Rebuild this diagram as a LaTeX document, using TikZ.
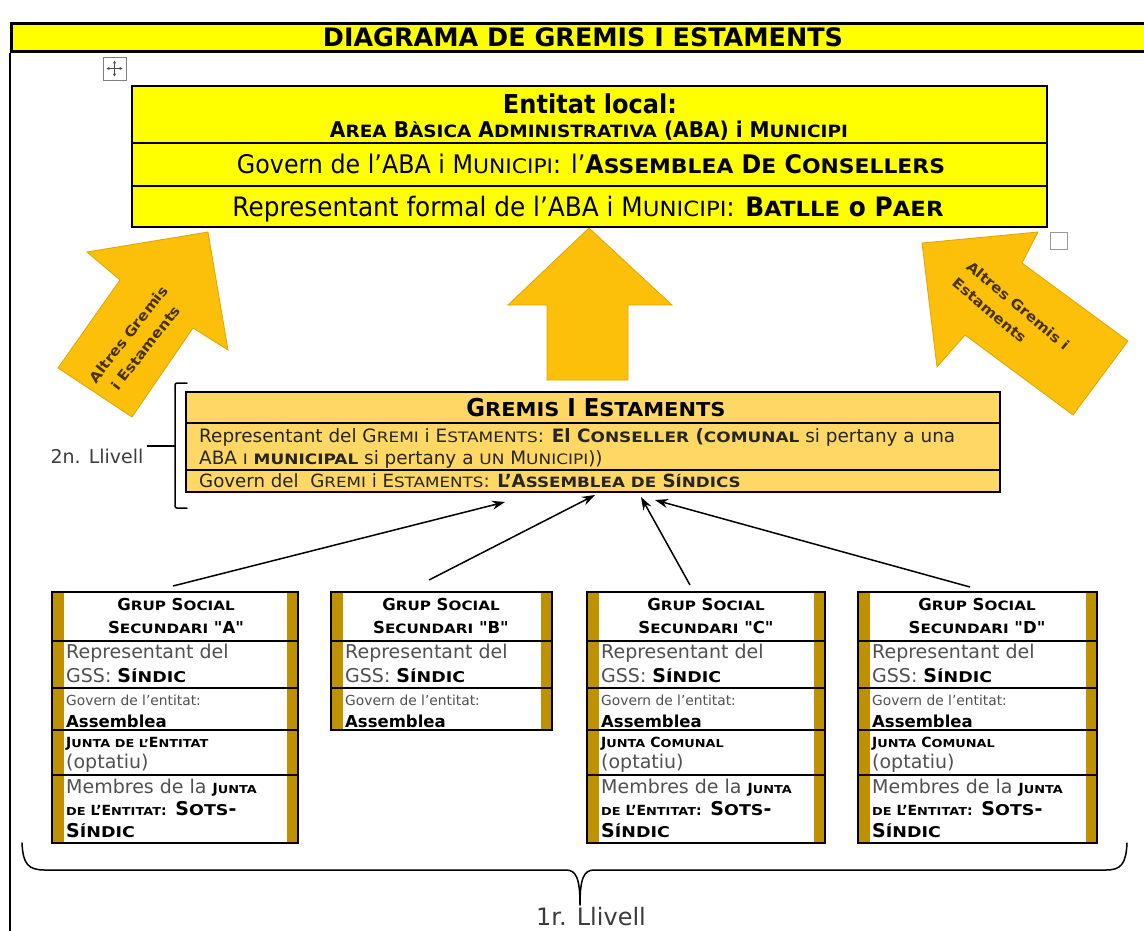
\documentclass[tikz,border=0pt]{standalone}
\usepackage{fontspec}
\setmainfont{DejaVu Sans}
\usetikzlibrary{arrows.meta}
\definecolor{barYellow}{RGB}{255,255,0}
\definecolor{gremFill}{RGB}{255,215,100}
\definecolor{goldBar}{RGB}{191,144,0}
\definecolor{arrowGold}{RGB}{252,192,10}
\definecolor{arrowEdge}{RGB}{222,165,0}
\definecolor{arrowInk}{RGB}{70,50,0}
\definecolor{softInk}{RGB}{80,80,80}
\definecolor{labelInk}{RGB}{60,60,60}
% synthetic small capitals
\newcommand\smc[1]{\scalebox{0.92}[0.78]{#1}}
% one line stretched to a given width
\newcommand\fitw[2]{\scalebox{1}[1.08]{\resizebox{#1}{!}{#2}}}
\newcommand\gsz{\fontsize{19}{23}\selectfont}
\newcommand\gsm{\fontsize{14}{17}\selectfont}
\newcommand\gsg{\fontsize{13.8}{16}\selectfont}
% straight double quote
\newcommand\dq{{\addfontfeature{Ligatures=TeXOff}"}}
\tikzset{
  rowline/.style={line width=1.5pt},
  panel/.style={draw, line width=2pt, anchor=north west, inner sep=0pt, outer sep=0pt},
  gssframe/.style={draw, line width=1.5pt, anchor=north west, inner sep=0pt, outer sep=0pt},
  txt/.style={inner sep=0pt, anchor=base west},
  ctxt/.style={inner sep=0pt, anchor=base},
  bigarrow/.style={fill=arrowGold, draw=arrowEdge, line width=0.8pt, line join=miter},
  conn/.style={line width=1.5pt, -{Stealth[length=13pt,width=9pt]}},
  brace/.style={line width=1.5pt, line join=round, line cap=round},
  arrowlabel/.style={inner sep=0pt, text=arrowInk, font=\fontsize{14}{22}\selectfont\bfseries},
}
% upper rows of a secondary social group box
\newcommand\gssupper[4]{%
  \node[ctxt, font=\fontsize{16.5}{20}\selectfont\bfseries] (#1h1) at (#3,610) {G\smc{RUP} S\smc{OCIAL}};
  \node[ctxt, font=\fontsize{16.5}{20}\selectfont\bfseries] (#1h2) at (#3,633) {S\smc{ECUNDARI} \dq#4\dq};
  \node[txt, font=\gsz, text=softInk] (#1r1) at (#2,658) {Representant del};
  \node[txt, font=\gsz, text=softInk] (#1r2) at (#2,682) {GSS: \textcolor{black}{\bfseries S\smc{ÍNDIC}}};
  \node[txt, font=\gsg, text=softInk] (#1g1) at (#2,705) {Govern de l’entitat:};
  \node[txt, font=\fontsize{16.5}{18}\selectfont\bfseries] (#1g2) at (#2,727) {Assemblea};
}
% lower rows (board and its members)
\newcommand\gsslower[3]{%
  \node[txt, font=\gsm\bfseries] (#1j1) at (#2,747) {#3};
  \node[txt, font=\gsz, text=softInk] (#1j2) at (#2,768) {(optatiu)};
  \node[txt, font=\gsz, text=softInk] (#1m1) at (#2,793) {Membres de la \textcolor{black}{\gsm\bfseries J\smc{UNTA}}};
  \node[txt, font=\gsz\bfseries] (#1m2) at (#2,815) {{\gsm\smc{DE} L’E\smc{NTITAT}:} S\smc{OTS}-};
  \node[txt, font=\gsz\bfseries] (#1m3) at (#2,837) {S\smc{ÍNDIC}};
}
\begin{document}
\begin{tikzpicture}[x=1pt,y=-1pt]
\useasboundingbox (0,0) rectangle (1144,930);
\fill[white] (0,0) rectangle (1144,930);

% title bar and page frame
\node[draw, line width=3pt, fill=barYellow, minimum width=1160pt, minimum height=28pt,
      anchor=north west, inner sep=0pt] (titlebar) at (10,22) {};
\node[ctxt] (title) at (583,46) {\resizebox{520pt}{!}{\bfseries DIAGRAMA DE GREMIS I ESTAMENTS}};
\draw[line width=1.5pt] (titlebar.south west) -- ++(0,900);

% table move handle and resize handle
\node[draw=gray, fill=white, line width=0.8pt, minimum size=23pt, inner sep=0pt] (handle) at (114.5,68.5) {};
\draw[black!70, line width=0.7pt, {Stealth[length=3pt,width=3pt]}-{Stealth[length=3pt,width=3pt]}] (handle.center) ++(0,-8) -- ++(0,16);
\draw[black!70, line width=0.7pt, {Stealth[length=3pt,width=3pt]}-{Stealth[length=3pt,width=3pt]}] (handle.center) ++(-8,0) -- ++(16,0);
\node[draw=gray!80, fill=white, line width=1pt, minimum size=17pt, inner sep=0pt] (resizer) at (1059,241) {};

% block arrows
\draw[bigarrow] (589,228) -- (672,305) -- (628,305) -- (628,380) -- (547,380) -- (547,305) -- (508,305) -- cycle;
\draw[bigarrow] (208,232) -- (228,350) -- (193,328) -- (132,417) -- (58,368) -- (120,280) -- (87,252) -- cycle;
\draw[bigarrow] (922,243) -- (1038,232) -- (1022,263) -- (1128,341) -- (1073,415) -- (965,335) -- (937,367) -- cycle;
\node[arrowlabel, rotate=52, align=center] (altL) at (137,341)
  {\scalebox{1.1}[1]{Altres Gremis}\\\scalebox{1.1}[1]{i Estaments}};
\node[arrowlabel, rotate=-40, align=left] (altR) at (1011,314)
  {\scalebox{1.1}[1]{Altres Gremis i}\\\scalebox{1.1}[1]{Estaments}};

% local entity
\node[panel, fill=barYellow, minimum width=915pt, minimum height=141pt] (ent) at (132,86) {};
\draw[rowline] (ent.north west) ++(0,57) -- ++(915,0);
\draw[rowline] (ent.north west) ++(0,100) -- ++(915,0);
\node[ctxt] (ent1) at (590,113) {\fitw{174pt}{\bfseries Entitat local:}};
\node[ctxt] (ent2) at (589,137) {\fitw{518pt}{\bfseries A\smc{REA} B\smc{ÀSICA} A\smc{DMINISTRATIVA} (ABA) i M\smc{UNICIPI}}};
\node[ctxt] (ent3) at (591,173) {\fitw{708pt}{Govern de l’ABA i M\smc{UNICIPI}: l’\textbf{A\smc{SSEMBLEA} D\smc{E} C\smc{ONSELLERS}}}};
\node[ctxt] (ent4) at (588,216) {\fitw{711pt}{Representant formal de l’ABA i M\smc{UNICIPI}: \textbf{B\smc{ATLLE} o P\smc{AER}}}};

% guilds and estates
\node[panel, fill=gremFill, minimum width=814pt, minimum height=100pt] (grem) at (186,392) {};
\draw[rowline] (grem.north west) ++(0,31) -- ++(814,0);
\draw[rowline] (grem.north west) ++(0,78) -- ++(814,0);
\node[ctxt] (gt1) at (596,416) {\fitw{259pt}{\bfseries G\smc{REMIS} I E\smc{STAMENTS}}};
\node[txt, text=black!85] (gt2) at (199,442) {\resizebox{756pt}{!}{\fontsize{19}{23}\selectfont
  \begin{tabular}[t]{@{}l@{}}
  Representant del G\smc{REMI} i E\smc{STAMENTS}: \textbf{El C\smc{ONSELLER} (\smc{COMUNAL}} si pertany a una\\
  ABA \smc{I} \textbf{\smc{MUNICIPAL}} si pertany a \smc{UN} M\smc{UNICIPI}))
  \end{tabular}}};
\node[txt, text=black!85, font=\fontsize{18.2}{22}\selectfont] (gt3) at (199,487)
  {Govern del\ \ G\smc{REMI} i E\smc{STAMENTS}: \textbf{L’A\smc{SSEMBLEA DE} S\smc{ÍNDICS}}};

% second level bracket
\draw[brace, rounded corners=2pt] (187,383) -- (175,383) -- (175,508) -- (187,508);
\coordinate (tick2) at (175,446);
\draw[line width=1.5pt] (tick2) -- ++(-28,0) coordinate (tick2end);
\node[ctxt, font=\fontsize{19}{23}\selectfont, text=labelInk] (lvl2) at (97,463) {2n. Llivell};

% secondary social groups
\foreach \n/\xa/\xb/\yb in {A/52/298/843,B/331/552/730,C/587/825/843,D/858/1097/843}{
  \fill[goldBar] (\xa,592) rectangle (\xa+12,\yb);
  \fill[goldBar] (\xb-11,592) rectangle (\xb,\yb);
  \node[gssframe, minimum width=\xb pt-\xa pt, minimum height=\yb pt-592pt] (\n) at (\xa,592) {};
  \draw[rowline] (\xa,641) -- (\xb,641);
  \draw[rowline] (\xa,688) -- (\xb,688);
  \ifnum\yb>800
    \draw[rowline] (\xa,730) -- (\xb,730);
    \draw[rowline] (\xa,775) -- (\xb,775);
  \fi
}
\gssupper{A}{66}{176}{A}
\gsslower{A}{66}{J\smc{UNTA DE L’}E\smc{NTITAT}}
\gssupper{B}{345}{441}{B}
\gssupper{C}{601}{706}{C}
\gsslower{C}{601}{J\smc{UNTA} C\smc{OMUNAL}}
\gssupper{D}{872}{977}{D}
\gsslower{D}{872}{J\smc{UNTA} C\smc{OMUNAL}}

% representation links
\coordinate (sA) at (173,586);
\coordinate (sB) at (429,580);
\coordinate (sC) at (690,585);
\coordinate (sD) at (970,587);
\coordinate (tA) at (505,502);
\coordinate (tB) at (595,495);
\coordinate (tC) at (641,497);
\coordinate (tD) at (655,500);
\draw[conn] (sA) -- (tA);
\draw[conn] (sB) -- (tB);
\draw[conn] (sC) -- (tC);
\draw[conn] (sD) -- (tD);

% first level brace
\coordinate (b1l) at (22,843);
\coordinate (b1m) at (580,905);
\coordinate (b1r) at (1127,843);
\draw[brace] (b1l) .. controls (23,864) and (28,870) .. (45,870) -- (566,870)
  .. controls (576,870) and (580,878) .. (b1m)
  .. controls (580,878) and (584,870) .. (594,870) -- (1106,870)
  .. controls (1121,870) and (1126,864) .. (b1r);
\node[ctxt, font=\fontsize{24}{28}\selectfont, text=labelInk] (lvl1) at (591,925) {1r. Llivell};
\end{tikzpicture}
\end{document}
